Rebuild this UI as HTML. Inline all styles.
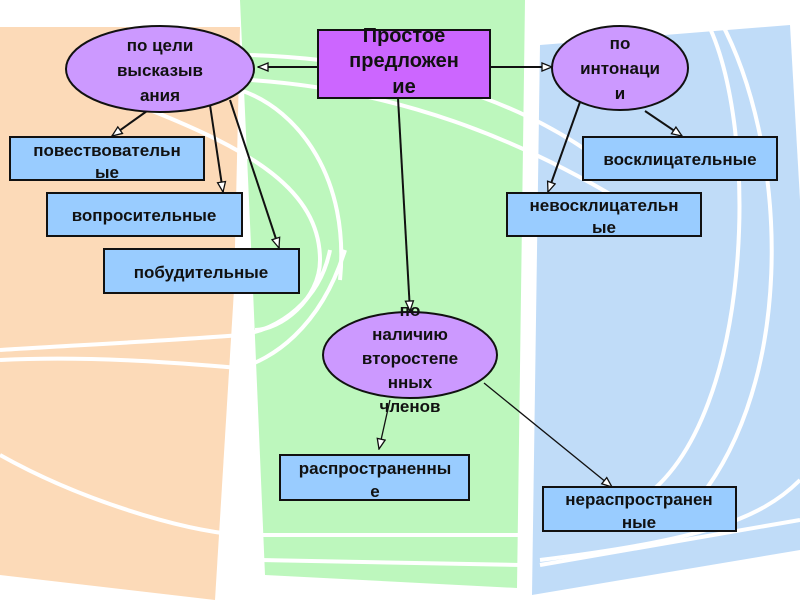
<!DOCTYPE html>
<html><head><meta charset="utf-8"><style>
html,body{margin:0;padding:0;background:#fff;}
svg{display:block;}
text{font-family:"Liberation Sans","DejaVu Sans",sans-serif;font-weight:bold;fill:#111;text-anchor:middle;}
</style></head><body>
<svg width="800" height="600" viewBox="0 0 800 600" xmlns="http://www.w3.org/2000/svg">
<defs>
<marker id="a" markerWidth="12" markerHeight="10" refX="11" refY="5" orient="auto" markerUnits="userSpaceOnUse">
<path d="M1,1 L11,5 L1,9 Z" fill="#fff" stroke="#111" stroke-width="1.3"/>
</marker>
</defs>
<polygon points="0,27 240,27 234,290 215,600 0,575" fill="#fcdab8"/>
<polygon points="240,0 525,0 517,588 265,575 253,290" fill="#bdf7bd"/>
<polygon points="540,45 790,25 800,200 800,550 532,595" fill="#c0dcf8"/>
<g fill="none" stroke="#fff" stroke-width="4">
<path d="M0,350 C80,345 180,340 240,335 C280,330 320,300 330,250"/>
<path d="M0,360 C100,355 200,365 240,368 C270,360 320,330 345,250"/>
<path d="M0,455 C80,500 180,530 240,535 L530,535"/>
<path d="M260,560 L520,565"/>
<path d="M540,565 L800,520"/>
<path d="M150,110 C250,150 320,190 320,260 C320,300 280,330 255,330"/>
<path d="M240,90 C300,110 350,180 340,280"/>
<path d="M250,55 C400,60 520,100 600,160"/>
<path d="M250,80 C400,90 520,140 620,200"/>
<path d="M700,10 C760,100 760,420 640,500"/>
<path d="M720,20 C790,150 800,400 680,520"/>
<path d="M800,480 C760,520 700,540 540,560"/>
</g>
<g stroke="#111" stroke-width="2" fill="none">
<line x1="318" y1="67" x2="258" y2="67" marker-end="url(#a)"/>
<line x1="490" y1="67" x2="552" y2="67" marker-end="url(#a)"/>
<line x1="398" y1="98" x2="410" y2="311" marker-end="url(#a)"/>
<line x1="147" y1="111" x2="112" y2="136" marker-end="url(#a)"/>
<line x1="210" y1="105" x2="223" y2="192" marker-end="url(#a)"/>
<line x1="230" y1="100" x2="279" y2="248" marker-end="url(#a)"/>
<line x1="580" y1="102" x2="548" y2="192" marker-end="url(#a)"/>
<line x1="645" y1="111" x2="682" y2="136" marker-end="url(#a)"/>
</g>
<g stroke="#111" stroke-width="1.3" fill="none">
<line x1="390" y1="400" x2="379" y2="449" marker-end="url(#a)"/>
<line x1="484" y1="383" x2="612" y2="487" marker-end="url(#a)"/>
</g>
<g stroke="#111" stroke-width="2">
<ellipse cx="160" cy="69" rx="94" ry="43" fill="#cc99ff"/>
<rect x="318" y="30" width="172" height="68" fill="#cc66ff"/>
<ellipse cx="620" cy="68" rx="68" ry="42" fill="#cc99ff"/>
<ellipse cx="410" cy="355" rx="87" ry="43" fill="#cc99ff"/>
<rect x="10" y="137" width="194" height="43" fill="#99ccff"/>
<rect x="47" y="193" width="195" height="43" fill="#99ccff"/>
<rect x="104" y="249" width="195" height="44" fill="#99ccff"/>
<rect x="583" y="137" width="194" height="43" fill="#99ccff"/>
<rect x="507" y="193" width="194" height="43" fill="#99ccff"/>
<rect x="280" y="455" width="189" height="45" fill="#99ccff"/>
<rect x="543" y="487" width="193" height="44" fill="#99ccff"/>
</g>
<g font-size="17">
<text x="160" y="51">по цели</text>
<text x="160" y="76">высказыв</text>
<text x="160" y="101">ания</text>
<text x="620" y="49">по</text>
<text x="620" y="74">интонаци</text>
<text x="620" y="99">и</text>
<text x="107" y="156">повествовательн</text>
<text x="107" y="178">ые</text>
<text x="144" y="221">вопросительные</text>
<text x="201" y="278">побудительные</text>
<text x="680" y="165">восклицательные</text>
<text x="604" y="211">невосклицательн</text>
<text x="604" y="233">ые</text>
<text x="375" y="474">распространенны</text>
<text x="375" y="497">е</text>
<text x="639" y="505">нераспространен</text>
<text x="639" y="528">ные</text>
<text x="410" y="316">по</text>
<text x="410" y="340">наличию</text>
<text x="410" y="364">второстепе</text>
<text x="410" y="388">нных</text>
<text x="410" y="412">членов</text>
</g>
<g font-size="20">
<text x="404" y="42">Простое</text>
<text x="404" y="67">предложен</text>
<text x="404" y="93">ие</text>
</g>
</svg>
</body></html>
